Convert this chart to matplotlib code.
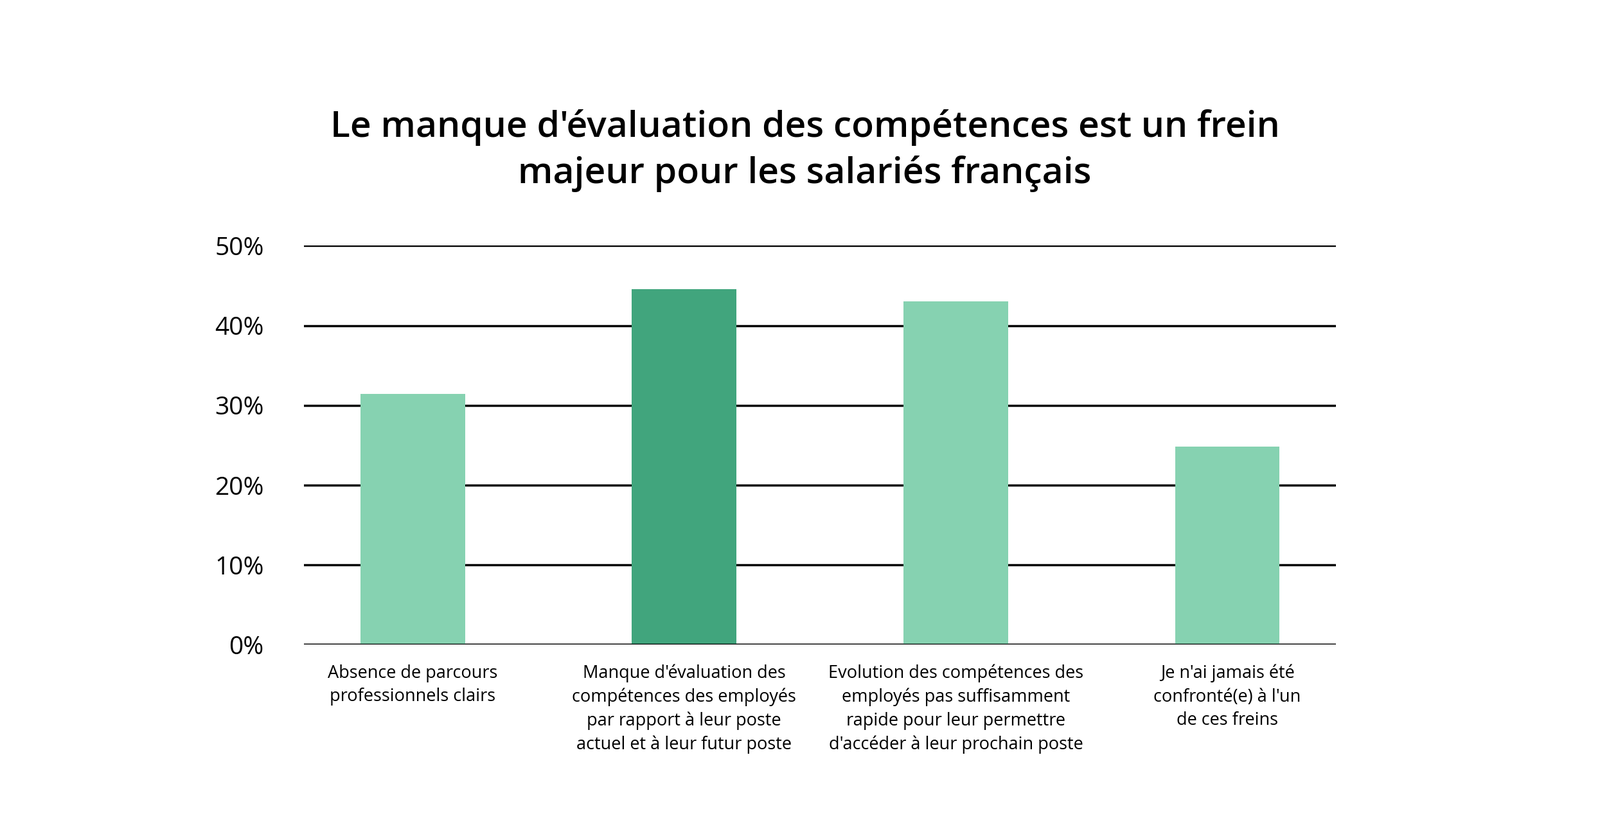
import matplotlib.pyplot as plt
from matplotlib.ticker import FuncFormatter

categories = [
    "Absence de parcours\nprofessionnels clairs",
    "Manque d'évaluation des\ncompétences des employés\npar rapport à leur poste\nactuel et à leur futur poste",
    "Evolution des compétences des\nemployés pas suffisamment\nrapide pour leur permettre\nd'accéder à leur prochain poste",
    "Je n'ai jamais été\nconfronté(e) à l'un\nde ces freins",
]
values = [31.4, 44.6, 43.0, 24.8]
colors = ['#86d2b1', '#41a57d', '#86d2b1', '#86d2b1']
yticks = [0, 10, 20, 30, 40, 50]

plt.rcParams['font.family'] = 'Open Sans'

fig = plt.figure(figsize=(24.9, 13.01), dpi=100)
ax = fig.add_axes([0.19, 0.229, 0.645, 0.477])

ax.bar(range(len(values)), values, width=0.385, color=colors, zorder=3)
ax.set_xlim(-0.4, 3.4)
ax.set_ylim(0, 50)
ax.set_yticks(yticks)
ax.yaxis.set_major_formatter(FuncFormatter(lambda v, p: f"{int(v)}%"))
ax.yaxis.grid(True, color='black', linewidth=2.5, zorder=1)
ax.set_axisbelow(True)
for s in ax.spines.values():
    s.set_visible(False)
ax.tick_params(axis='y', length=0, labelsize=28, pad=45)
ax.set_xticks(range(len(values)))
ax.set_xticklabels(categories, fontsize=19.5, linespacing=1.4)
ax.tick_params(axis='x', length=0, pad=22)
ax.axhline(0, color='black', linewidth=2.5, zorder=4)

fig.text(0.503, 0.82, "Le manque d'évaluation des compétences est un frein\nmajeur pour les salariés français",
         ha='center', va='center', fontsize=41, fontweight='semibold', linespacing=1.35)

fig.savefig('out.png', dpi=100, facecolor='white')
